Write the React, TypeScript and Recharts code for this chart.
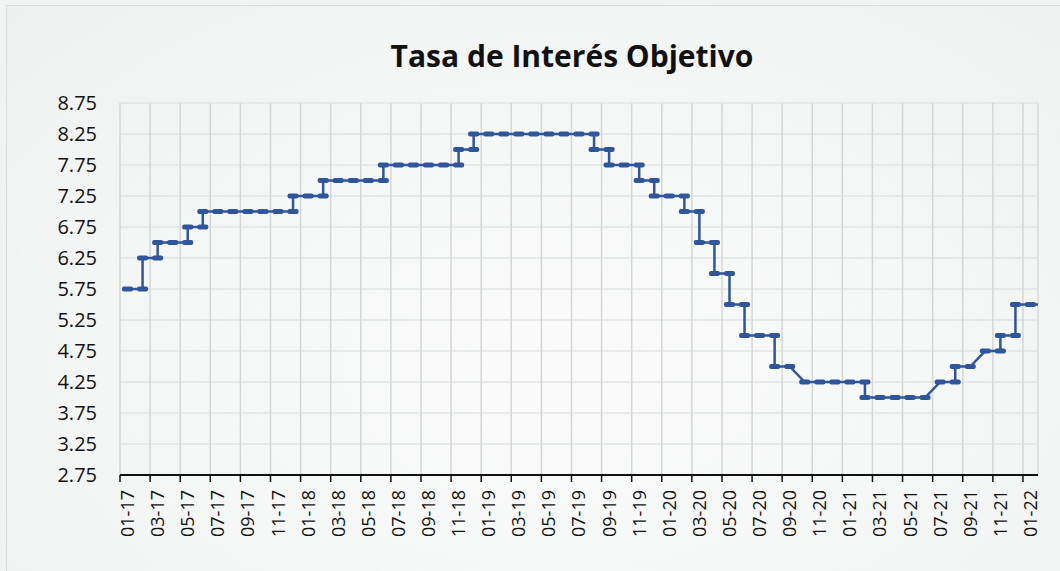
import { CartesianGrid, Line, LineChart, ReferenceLine, XAxis, YAxis } from "recharts";

// Tasa objetivo at each month, Jan 2017 (index 0) .. Feb 2022
const monthlyRate = [
  5.75, 6.25, 6.5, 6.5, 6.75, 7.0, 7.0, 7.0, 7.0, 7.0, 7.0, 7.25,
  7.25, 7.5, 7.5, 7.5, 7.5, 7.75, 7.75, 7.75, 7.75, 7.75, 8.0, 8.25,
  8.25, 8.25, 8.25, 8.25, 8.25, 8.25, 8.25, 8.0, 7.75, 7.75, 7.5, 7.25,
  7.25, 7.0, 6.5, 6.0, 5.5, 5.0, 5.0, 4.5, 4.5, 4.25, 4.25, 4.25,
  4.25, 4.0, 4.0, 4.0, 4.0, 4.0, 4.25, 4.5, 4.5, 4.75, 5.0, 5.5,
  5.5, 5.5,
];

// months where the previous rate is also plotted at the same position (vertical step)
const stepMonths = [1, 2, 4, 5, 11, 13, 17, 22, 23, 31, 32, 34, 35, 37, 38, 39, 40, 41, 43, 49, 55, 58, 59];

const tickLabels = [
  "01-17", "03-17", "05-17", "07-17", "09-17", "11-17",
  "01-18", "03-18", "05-18", "07-18", "09-18", "11-18",
  "01-19", "03-19", "05-19", "07-19", "09-19", "11-19",
  "01-20", "03-20", "05-20", "07-20", "09-20", "11-20",
  "01-21", "03-21", "05-21", "07-21", "09-21", "11-21",
  "01-22",
];

const yTicks = [2.75, 3.25, 3.75, 4.25, 4.75, 5.25, 5.75, 6.25, 6.75, 7.25, 7.75, 8.25, 8.75];

const chartData = monthlyRate.flatMap((rate, m) =>
  stepMonths.includes(m)
    ? [{ x: m, rate: monthlyRate[m - 1] }, { x: m, rate }]
    : [{ x: m, rate }]
);

const VISIBLE_MONTHS = 61;
const xTicks = tickLabels.map((_, i) => i * 2 - 0.5);

const W = 1060;
const H = 571;
const PLOT_LEFT = 120;
const PLOT_RIGHT = 1038;
const HALF_MONTH = (PLOT_RIGHT - PLOT_LEFT) / VISIBLE_MONTHS / 2;
const BLUE = "#2F559B";
const FONT = "'Open Sans', sans-serif";

function MonthTick({ x, y, payload }: any) {
  const label = tickLabels[Math.round((payload.value + 0.5) / 2)];
  return (
    <text
      x={0}
      y={0}
      transform={`translate(${x + HALF_MONTH},${y}) rotate(-90)`}
      textAnchor="end"
      dy="0.36em"
      fontSize={18}
      fontFamily={FONT}
      fill="#111"
    >
      {label}
    </text>
  );
}

function DashDot({ cx, cy, index }: any) {
  if (cx == null || cy == null) return null;
  return <rect key={`d-${index}`} x={cx - 5.5} y={cy - 2.5} width={11} height={5} rx={2} fill={BLUE} />;
}

export default function App() {
  return (
    <div
      style={{
        position: "absolute",
        left: 0,
        top: 0,
        width: W,
        height: H,
        overflow: "hidden",
        background: "#f2f3f3",
      }}
    >
      <div
        style={{
          position: "absolute",
          left: 6,
          top: 5,
          width: 1100,
          height: 600,
          border: "1.5px solid #dcdcdc",
          background: "radial-gradient(ellipse at 50% 60%, #fbfbfb 0%, #f6f7f7 45%, #eff0f0 100%)",
        }}
      />
      <svg width={W} height={80} style={{ position: "absolute", left: 0, top: 0 }}>
        <text x={572} y={67} textAnchor="middle" fontSize={30} fontWeight={700} fontFamily={FONT} fill="#111">
          Tasa de Interés Objetivo
        </text>
      </svg>
      <div style={{ position: "absolute", left: 0, top: 0 }}>
        <LineChart width={W} height={H} data={chartData} margin={{ top: 103, right: W - PLOT_RIGHT, bottom: 16, left: 0 }}>
          <CartesianGrid horizontal={true} vertical={false} stroke="#e2e3e3" strokeWidth={1.5} />
          <CartesianGrid horizontal={false} vertical={true} stroke="#d5d6d6" strokeWidth={1.5} />
          <ReferenceLine x={VISIBLE_MONTHS - 0.5} stroke="#e2e3e3" strokeWidth={1.5} />
          <XAxis
            dataKey="x"
            type="number"
            domain={[-0.5, VISIBLE_MONTHS - 0.5]}
            allowDataOverflow
            ticks={xTicks}
            interval={0}
            height={80}
            axisLine={{ stroke: "#111", strokeWidth: 2 }}
            tickLine={{ stroke: "#111", strokeWidth: 1.5 }}
            tickSize={7}
            tickMargin={8}
            tick={<MonthTick />}
          />
          <YAxis
            type="number"
            domain={[2.75, 8.75]}
            ticks={yTicks}
            interval={0}
            width={PLOT_LEFT}
            axisLine={false}
            tickLine={false}
            tickSize={0}
            tickMargin={23}
            tickFormatter={(v: number) => v.toFixed(2)}
            tick={{ fontSize: 20, fontFamily: FONT, fill: "#111" }}
          />
          <Line
            dataKey="rate"
            type="linear"
            stroke={BLUE}
            strokeWidth={2.5}
            dot={<DashDot />}
            activeDot={false}
            isAnimationActive={false}
          />
        </LineChart>
      </div>
    </div>
  );
}
